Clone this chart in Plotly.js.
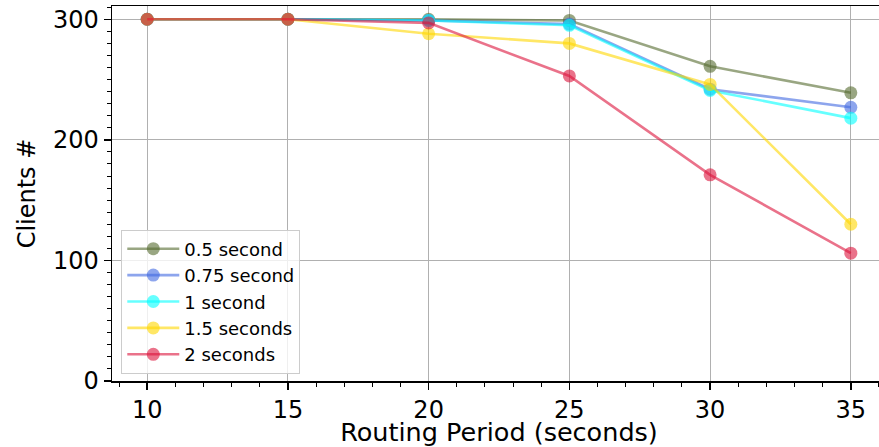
<!DOCTYPE html>
<html>
<head>
<meta charset="utf-8">
<script src="https://cdn.plot.ly/plotly-3.0.1.min.js"></script>
<style>
html, body { margin:0; padding:0; overflow:hidden; width:879px; height:447px; background:#fff; }
#chart { width:900px; height:447px; }
</style>
</head>
<body>
<div id="chart"></div>
<script>
const routingPeriods = [10, 15, 20, 25, 30, 35];
const seriesNames = ["0.5 second", "0.75 second", "1 second", "1.5 seconds", "2 seconds"];
const s05 = [300, 300, 300, 299, 261, 239];
const s075 = [300, 300, 299, 296, 242, 227];
const s1 = [300, 300, 299, 295, 241, 218];
const s15 = [300, 300, 288, 280, 246, 130];
const s2 = [300, 300, 297, 253, 171, 106];
const seriesValues = [s05, s075, s1, s15, s2];
const seriesColors = ["rgba(85,107,47,0.6)", "rgba(65,105,225,0.6)", "rgba(0,255,255,0.6)", "rgba(255,215,0,0.6)", "rgba(220,20,60,0.6)"];
const xTicks = [10, 15, 20, 25, 30, 35];
const yTicks = [0, 100, 200, 300];

const traces = seriesValues.map((vals, i) => ({
  x: routingPeriods,
  y: vals,
  name: seriesNames[i],
  type: "scatter",
  mode: "lines+markers",
  line: { color: seriesColors[i], width: 2.6 },
  marker: { color: seriesColors[i], size: 13 }
}));

const font = { family: "DejaVu Sans", color: "#000" };

const layout = {
  width: 900,
  height: 447,
  margin: { l: 112, r: 14, t: 6, b: 66 },
  paper_bgcolor: "#fff",
  plot_bgcolor: "#fff",
  font: Object.assign({ size: 24 }, font),
  showlegend: true,
  legend: {
    x: 0.012, y: 0.02, xanchor: "left", yanchor: "bottom",
    bgcolor: "rgba(255,255,255,0.8)", bordercolor: "#cccccc", borderwidth: 1,
    font: Object.assign({ size: 18 }, font),
    itemwidth: 52, tracegroupgap: 0
  },
  xaxis: {
    range: [8.75, 36.25],
    tickvals: xTicks,
    ticktext: xTicks.map(String),
    tickfont: Object.assign({ size: 24 }, font),
    ticks: "outside", ticklen: 7, tickwidth: 1.5, tickcolor: "#000",
    showline: true, linecolor: "#000", linewidth: 1.5, mirror: true,
    showgrid: true, gridcolor: "#b0b0b0", gridwidth: 1,
    zeroline: false,
    minor: { dtick: 1, ticks: "outside", ticklen: 4, tickwidth: 1, tickcolor: "#000", showgrid: false },
    title: { text: "Routing Period (seconds)", font: Object.assign({ size: 25.5 }, font), standoff: 10 },
    automargin: false
  },
  yaxis: {
    range: [0, 311],
    tickvals: yTicks,
    ticktext: yTicks.map(String),
    tickfont: Object.assign({ size: 24 }, font),
    ticks: "outside", ticklen: 7, tickwidth: 1.5, tickcolor: "#000",
    showline: true, linecolor: "#000", linewidth: 1.5, mirror: true,
    showgrid: true, gridcolor: "#b0b0b0", gridwidth: 1,
    zeroline: false,
    minor: { dtick: 10, ticks: "outside", ticklen: 4, tickwidth: 1, tickcolor: "#000", showgrid: false },
    title: { text: "Clients #", font: Object.assign({ size: 24 }, font), standoff: 10 },
    automargin: false
  }
};

Plotly.newPlot("chart", traces, layout, { displayModeBar: false, staticPlot: true });
</script>
</body>
</html>
